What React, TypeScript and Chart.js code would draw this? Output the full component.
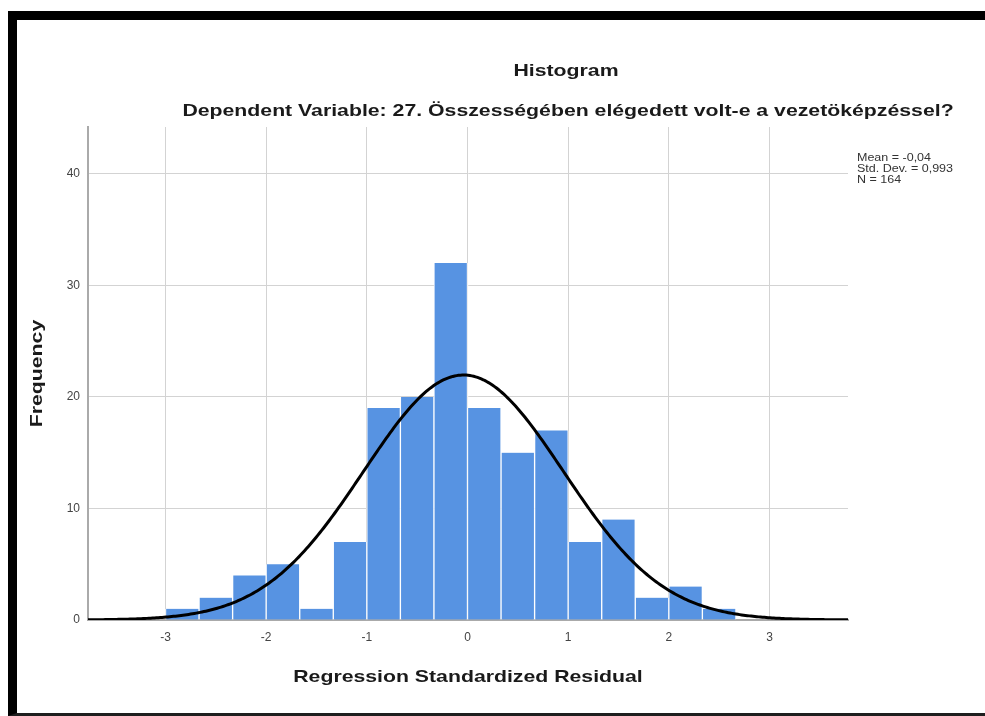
import React, { useEffect, useRef } from "react";
import { Chart, registerables } from "chart.js";

Chart.register(...registerables);

// Histogram bins of the standardized residuals (lower edge of each 1/3-wide bin)
const binLowerEdges = [
  -3, -8 / 3, -7 / 3, -2, -5 / 3, -4 / 3, -1, -2 / 3, -1 / 3,
  0, 1 / 3, 2 / 3, 1, 4 / 3, 5 / 3, 2, 7 / 3,
];
const binWidth = 1 / 3;
const frequencies = [1, 2, 4, 5, 1, 7, 19, 20, 32, 19, 15, 17, 7, 9, 2, 3, 1];

// Axis setup
const xTickValues = [-3, -2, -1, 0, 1, 2, 3];
const yTickValues = [0, 10, 20, 30, 40];
const xMin = -3.77;
const xMax = 3.78;
const yMax = 44.2;

// Summary statistics used for the fitted normal curve
const residualMean = -0.04;
const residualStdDev = 0.993;
const sampleSize = 164;
const statsLines = ["Mean = -0,04", "Std. Dev. = 0,993", "N = 164"];

const titleText = "Histogram";
const subtitleText =
  "Dependent Variable: 27. Összességében elégedett volt-e a vezetöképzéssel?";
const xAxisTitle = "Regression Standardized Residual";
const yAxisTitle = "Frequency";

const FONT = "'Liberation Sans', Arial, Helvetica, sans-serif";
const STRETCH = 1.25;

function normalCurve() {
  const pts: { x: number; y: number }[] = [];
  const scale = sampleSize * binWidth;
  const steps = 400;
  for (let i = 0; i <= steps; i++) {
    const x = xMin + ((xMax - xMin) * i) / steps;
    const z = (x - residualMean) / residualStdDev;
    const pdf = Math.exp(-0.5 * z * z) / (residualStdDev * Math.sqrt(2 * Math.PI));
    pts.push({ x, y: scale * pdf });
  }
  return pts;
}

const textPlugin = {
  id: "histogramText",
  afterDraw(chart: any) {
    const ctx: CanvasRenderingContext2D = chart.ctx;
    const area = chart.chartArea;
    const draw = (
      text: string,
      x: number,
      y: number,
      font: string,
      color: string,
      align: CanvasTextAlign = "center",
      rotate = false
    ) => {
      ctx.save();
      ctx.translate(x, y);
      if (rotate) ctx.rotate(-Math.PI / 2);
      ctx.scale(STRETCH, 1);
      ctx.font = font;
      ctx.fillStyle = color;
      ctx.textAlign = align;
      ctx.textBaseline = "middle";
      ctx.fillText(text, 0, 0);
      ctx.restore();
    };
    const bold = `bold 17px ${FONT}`;
    draw(titleText, 566, 71, bold, "#1a1a1a");
    draw(subtitleText, 568, 111, bold, "#1a1a1a");
    draw(xAxisTitle, 468, 677, bold, "#1a1a1a");
    draw(yAxisTitle, 37, (area.top + area.bottom) / 2, bold, "#1a1a1a", "center", true);
    statsLines.forEach((line, i) => {
      draw(line, area.right + 9, 158 + i * 11, `10px ${FONT}`, "#333", "left");
    });
  },
};

export default function App() {
  const canvasRef = useRef<HTMLCanvasElement | null>(null);

  useEffect(() => {
    if (!canvasRef.current) return;
    const barData = binLowerEdges.map((edge, i) => ({
      x: edge + binWidth / 2,
      y: frequencies[i],
    }));

    const chart = new Chart(canvasRef.current, {
      type: "bar",
      data: {
        datasets: [
          {
            type: "line",
            data: normalCurve(),
            borderColor: "#000000",
            borderWidth: 3,
            pointRadius: 0,
            tension: 0,
            fill: false,
            order: 0,
          } as any,
          {
            type: "bar",
            data: barData,
            backgroundColor: "#5793e2",
            borderColor: "rgba(255,255,255,0.9)",
            borderWidth: { left: 1, right: 1, top: 0, bottom: 0 },
            barPercentage: 1,
            categoryPercentage: 1,
            grouped: false,
            order: 1,
          } as any,
        ],
      },
      options: {
        responsive: false,
        animation: false,
        layout: { padding: { left: 0, top: 127, right: 137, bottom: 0 } },
        plugins: {
          legend: { display: false },
          tooltip: { enabled: false },
          title: { display: false },
        },
        scales: {
          x: {
            type: "linear",
            min: xMin,
            max: xMax,
            offset: false,
            afterBuildTicks: (s: any) => {
              s.ticks = xTickValues.map((v) => ({ value: v }));
            },
            afterFit: (s: any) => {
              s.height = 96;
            },
            grid: { color: "#d3d3d3", lineWidth: 1, drawTicks: false, offset: false },
            border: { color: "#aaaaaa", width: 2 },
            ticks: {
              padding: 10,
              color: "#444",
              font: { size: 12, family: FONT },
              maxRotation: 0,
              autoSkip: false,
              callback: (v: any) => String(v),
            },
          },
          y: {
            type: "linear",
            min: 0,
            max: yMax,
            afterBuildTicks: (s: any) => {
              s.ticks = yTickValues.map((v) => ({ value: v }));
            },
            afterFit: (s: any) => {
              s.width = 88;
            },
            grid: { color: "#d3d3d3", lineWidth: 1, drawTicks: false },
            border: { color: "#aaaaaa", width: 2 },
            ticks: {
              padding: 8,
              color: "#444",
              font: { size: 12, family: FONT },
              callback: (v: any) => String(v),
            },
          },
        },
      },
      plugins: [textPlugin],
    });
    return () => chart.destroy();
  }, []);

  return (
    <div
      style={{
        position: "fixed",
        left: 0,
        top: 0,
        width: 985,
        height: 716,
        background: "#ffffff",
        overflow: "hidden",
      }}
    >
      <canvas
        ref={canvasRef}
        width={985}
        height={716}
        style={{ position: "absolute", left: 0, top: 0, display: "block" }}
      />
      <div
        style={{
          position: "absolute",
          left: 8,
          top: 11,
          width: 990,
          height: 705,
          boxSizing: "border-box",
          borderTop: "9px solid #000",
          borderLeft: "9px solid #000",
          borderBottom: "3px solid #1e1e1e",
          pointerEvents: "none",
        }}
      />
    </div>
  );
}
